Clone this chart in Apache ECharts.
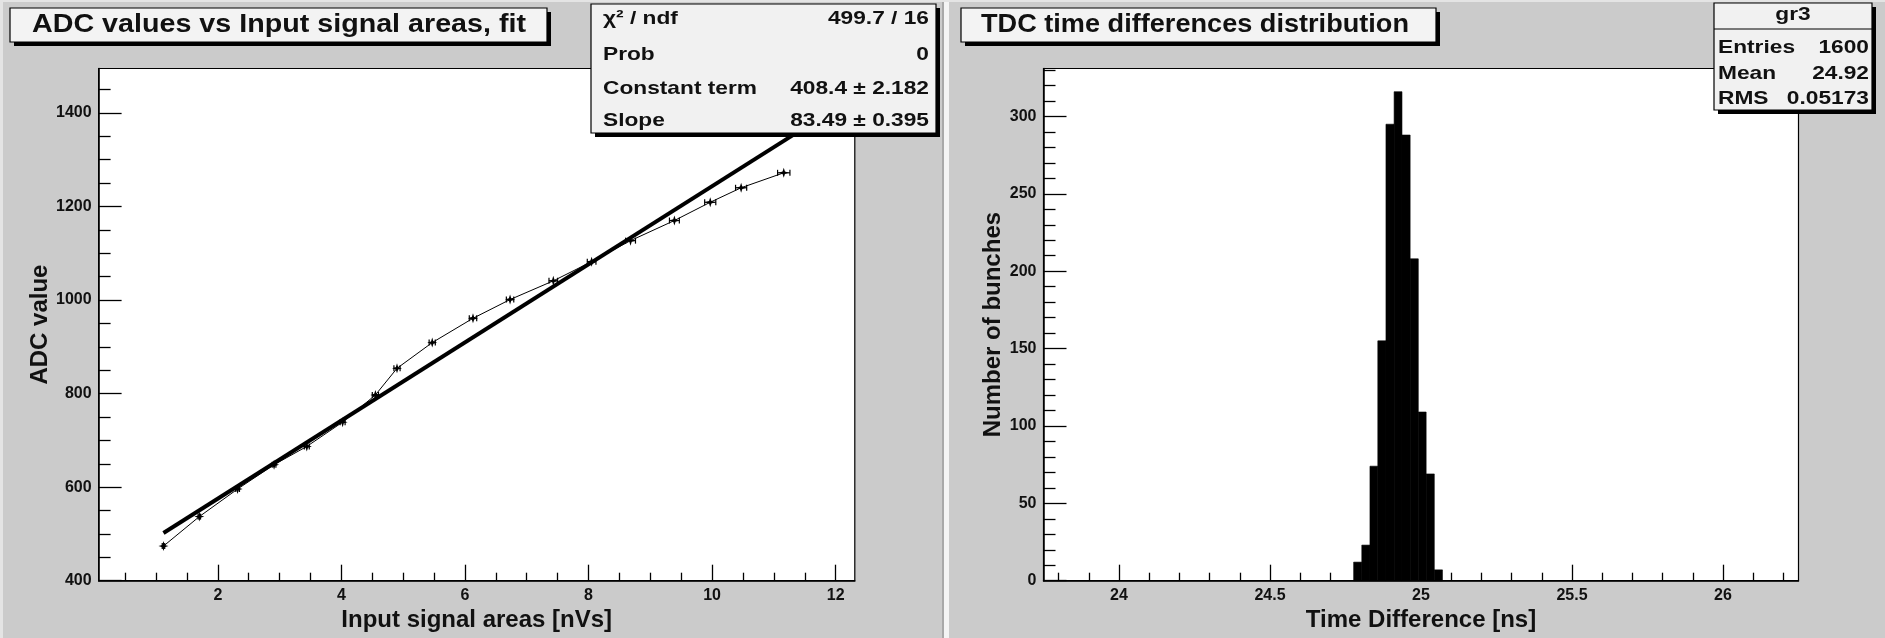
<!DOCTYPE html>
<html><head><meta charset="utf-8">
<script src="https://cdn.jsdelivr.net/npm/echarts@6/dist/echarts.min.js"></script>
<style>html,body{margin:0;padding:0;background:#cbcbcb;overflow:hidden}#c{width:1885px;height:638px}</style>
</head><body><div id="c"></div><script>
// ---- Left panel: ADC values vs input signal areas ----
const adcX    = [1.12, 1.70, 2.32, 2.91, 3.44, 4.02, 4.55, 4.90, 5.47, 6.13, 6.73, 7.43, 8.05, 8.68, 9.39, 9.97, 10.47, 11.16];
const adcY    = [474, 537, 596, 648, 687, 739, 797, 854, 909, 961, 1001, 1041, 1082, 1127, 1170, 1209, 1240, 1272];
const adcXErr = [0.02, 0.02, 0.03, 0.03, 0.04, 0.04, 0.05, 0.05, 0.05, 0.06, 0.06, 0.07, 0.07, 0.08, 0.08, 0.09, 0.09, 0.10];
const fitX = [1.12, 11.5];
const fitY = [501.9, 1368.5];
const leftXTicks = [2, 4, 6, 8, 10, 12];
const leftYTicks = [400, 600, 800, 1000, 1200, 1400];
const leftStatLabels = ['\u03C7\u00B2 / ndf', 'Prob', 'Constant term', 'Slope'];
const leftStatValues = ['499.7 / 16', '0', '408.4 \u00B1 2.182', '83.49 \u00B1 0.395'];

// ---- Right panel: TDC time differences histogram ----
const tdcBinLow   = [24.777, 24.804, 24.831, 24.857, 24.884, 24.911, 24.937, 24.964, 24.991, 25.017, 25.044];
const tdcBinHigh  = [24.804, 24.831, 24.857, 24.884, 24.911, 24.937, 24.964, 24.991, 25.017, 25.044, 25.071];
const tdcCounts   = [12, 23, 74, 155, 295, 316, 288, 208, 109, 69, 7];
const rightXTicks = [24, 24.5, 25, 25.5, 26];
const rightYTicks = [0, 50, 100, 150, 200, 250, 300];
const rightStatLabels = ['Entries', 'Mean', 'RMS'];
const rightStatValues = ['1600', '24.92', '0.05173'];

function minorTicks(min, max, step, majors) {
  const out = [];
  const start = Math.ceil(min / step - 1e-9);
  for (let k = start; k * step <= max + 1e-9; k++) {
    const v = +(k * step).toFixed(6);
    if (!majors.some(m => Math.abs(m - v) < 1e-6)) out.push(v);
  }
  return out;
}

const LX = [0.07, 12.31], LY = [400, 1495];
const RX = [23.75, 26.25], RY = [0, 331];
const FONT = 'Liberation Sans';
const tickFont = {fontFamily: FONT, fontWeight: 'bold', fontSize: 16, color: '#111'};
const fmt = v => String(v);

function xAxes(grid, ext, majors, minors, name) {
  return [
    {type: 'value', gridIndex: grid, min: ext[0], max: ext[1], position: 'bottom',
     name: name, nameLocation: 'middle', nameGap: 28,
     nameTextStyle: {fontFamily: FONT, fontWeight: 'bold', fontSize: 24, color: '#111'},
     axisLine: {show: true, lineStyle: {color: '#000', width: 1.5}},
     axisTick: {show: true, inside: true, length: 16, customValues: majors, lineStyle: {color: '#000', width: 1.3}},
     axisLabel: {show: true, customValues: majors, formatter: fmt, margin: 7, ...tickFont},
     splitLine: {show: false}},
    {type: 'value', gridIndex: grid, min: ext[0], max: ext[1], position: 'bottom',
     axisLine: {show: false},
     axisTick: {show: true, inside: true, length: 8, customValues: minors, lineStyle: {color: '#000', width: 1.3}},
     axisLabel: {show: false}, splitLine: {show: false}}
  ];
}
function yAxes(grid, ext, majors, minors, name) {
  return [
    {type: 'value', gridIndex: grid, min: ext[0], max: ext[1], position: 'left',
     name: name, nameLocation: 'middle', nameGap: 38, nameRotate: 90,
     nameTextStyle: {fontFamily: FONT, fontWeight: 'bold', fontSize: 24, color: '#111'},
     axisLine: {show: true, lineStyle: {color: '#000', width: 1.5}},
     axisTick: {show: true, inside: true, length: 23, customValues: majors, lineStyle: {color: '#000', width: 1.3}},
     axisLabel: {show: true, customValues: majors, formatter: fmt, margin: 7, ...tickFont},
     splitLine: {show: false}},
    {type: 'value', gridIndex: grid, min: ext[0], max: ext[1], position: 'left',
     axisLine: {show: false},
     axisTick: {show: true, inside: true, length: 12, customValues: minors, lineStyle: {color: '#000', width: 1.3}},
     axisLabel: {show: false}, splitLine: {show: false}}
  ];
}

const adcPoints = adcX.map((x, i) => [x, adcY[i]]);
const adcErr = adcX.map((x, i) => [x - adcXErr[i], x + adcXErr[i], adcY[i]]);
const fitData = fitX.map((x, i) => [x, fitY[i]]);
const histData = tdcCounts.map((c, i) => [tdcBinLow[i], tdcBinHigh[i], c]);

// text measuring, so that boxed texts keep the reference's stretched widths
const mctx = document.createElement('canvas').getContext('2d');
function measure(t, size) { mctx.font = 'bold ' + size + 'px "' + FONT + '"'; return mctx.measureText(t).width; }

const G = [];
function box(x, y, w, h, fill) {
  G.push({type: 'rect', z: 100, shape: {x: x + 4, y: y + 4, width: w, height: h}, style: {fill: '#000'}});
  G.push({type: 'rect', z: 101, shape: {x: x, y: y, width: w, height: h}, style: {fill: fill, stroke: '#000', lineWidth: 1.2}});
}
function txt(t, x, y, align, size, sx) {
  G.push({type: 'text', z: 102, x: x, y: y, scaleX: sx,
    style: {text: t, x: 0, y: 0, align: align, verticalAlign: 'middle',
      font: 'bold ' + size + 'px "' + FONT + '"', fill: '#111'}});
}
// pad separators / bevels
G.push({type: 'rect', z: 1, shape: {x: 942, y: 0, width: 2, height: 638}, style: {fill: '#a8a8a8'}});
G.push({type: 'rect', z: 1, shape: {x: 944, y: 0, width: 5, height: 638}, style: {fill: '#f4f4f4'}});
G.push({type: 'rect', z: 1, shape: {x: 0, y: 0, width: 3, height: 638}, style: {fill: '#e4e4e4'}});
G.push({type: 'rect', z: 1, shape: {x: 0, y: 0, width: 1885, height: 2}, style: {fill: '#e4e4e4'}});

const TSIZE = 26, SSIZE = 19;
const statScale = 154 / measure('Constant term', SSIZE);
// left title
box(10, 8, 537, 34, '#f3f3f3');
const t1 = 'ADC values vs Input signal areas, fit';
txt(t1, 279, 25, 'center', TSIZE, 494 / measure(t1, TSIZE));
// left stats
box(591, 4, 345, 129, '#f1f1f1');
const lrow = [19, 55, 89, 121];
leftStatLabels.forEach((t, i) => txt(t, 603, lrow[i], 'left', SSIZE, statScale));
leftStatValues.forEach((t, i) => txt(t, 929, lrow[i], 'right', SSIZE, statScale));
// right title
box(961, 8, 475, 34, '#f3f3f3');
const t2 = 'TDC time differences distribution';
txt(t2, 1195, 25, 'center', TSIZE, 428 / measure(t2, TSIZE));
// right stats
box(1714, 3, 158, 107, '#f1f1f1');
G.push({type: 'line', z: 102, shape: {x1: 1714, y1: 29, x2: 1872, y2: 29}, style: {stroke: '#000', lineWidth: 1}});
txt('gr3', 1793, 15, 'center', SSIZE, statScale);
const rrow = [48, 74, 99];
rightStatLabels.forEach((t, i) => txt(t, 1718, rrow[i], 'left', SSIZE, statScale));
rightStatValues.forEach((t, i) => txt(t, 1869, rrow[i], 'right', SSIZE, statScale));

const option = {
  animation: false,
  backgroundColor: '#cbcbcb',
  grid: [
    {left: 98.6, right: 1885 - 854.8, top: 68.5, bottom: 638 - 580.7, outerBoundsMode: 'none', containLabel: false,
     show: true, backgroundColor: '#fff', borderColor: '#000', borderWidth: 1.2},
    {left: 1043.5, right: 1885 - 1798.5, top: 68.5, bottom: 638 - 580.7, outerBoundsMode: 'none', containLabel: false,
     show: true, backgroundColor: '#fff', borderColor: '#000', borderWidth: 1.2}
  ],
  xAxis: [
    ...xAxes(0, LX, leftXTicks, minorTicks(LX[0], LX[1], 0.5, leftXTicks), 'Input signal areas [nVs]'),
    ...xAxes(1, RX, rightXTicks, minorTicks(RX[0], RX[1], 0.1, rightXTicks), 'Time Difference [ns]')
  ],
  yAxis: [
    ...yAxes(0, LY, leftYTicks, minorTicks(LY[0], LY[1], 50, leftYTicks), 'ADC value'),
    ...yAxes(1, RY, rightYTicks, minorTicks(RY[0], RY[1], 10, rightYTicks), 'Number of bunches')
  ],
  series: [
    {type: 'line', name: 'fit', xAxisIndex: 0, yAxisIndex: 0, data: fitData, symbol: 'none',
     lineStyle: {color: '#000', width: 4}, z: 3},
    {type: 'line', name: 'ADC', xAxisIndex: 0, yAxisIndex: 0, data: adcPoints,
     symbol: 'path://M5 0 L6.2 3.8 L10 5 L6.2 6.2 L5 10 L3.8 6.2 L0 5 L3.8 3.8 Z', symbolSize: 10,
     itemStyle: {color: '#000'}, lineStyle: {color: '#000', width: 1}, z: 4},
    {type: 'custom', name: 'xerr', xAxisIndex: 0, yAxisIndex: 0, data: adcErr, z: 5,
     renderItem: (params, api) => {
       const a = api.coord([api.value(0), api.value(2)]);
       const b = api.coord([api.value(1), api.value(2)]);
       return {type: 'group', children: [
         {type: 'line', shape: {x1: a[0], y1: a[1], x2: b[0], y2: b[1]}, style: {stroke: '#000', lineWidth: 1.2}},
         {type: 'line', shape: {x1: a[0], y1: a[1] - 3, x2: a[0], y2: a[1] + 3}, style: {stroke: '#000', lineWidth: 1.2}},
         {type: 'line', shape: {x1: b[0], y1: b[1] - 3, x2: b[0], y2: b[1] + 3}, style: {stroke: '#000', lineWidth: 1.2}}
       ]};
     }},
    {type: 'custom', name: 'TDC', xAxisIndex: 2, yAxisIndex: 2, data: histData, z: 3,
     renderItem: (params, api) => {
       const p0 = api.coord([api.value(0), 0]);
       const p1 = api.coord([api.value(1), api.value(2)]);
       return {type: 'rect', shape: {x: p0[0], y: p1[1], width: p1[0] - p0[0], height: p0[1] - p1[1]},
               style: {fill: '#000', stroke: '#000', lineWidth: 0.6}};
     }}
  ],
  graphic: G
};
const chart = echarts.init(document.getElementById('c'), null, {renderer: 'canvas'});
chart.setOption(option);
</script></body></html>
